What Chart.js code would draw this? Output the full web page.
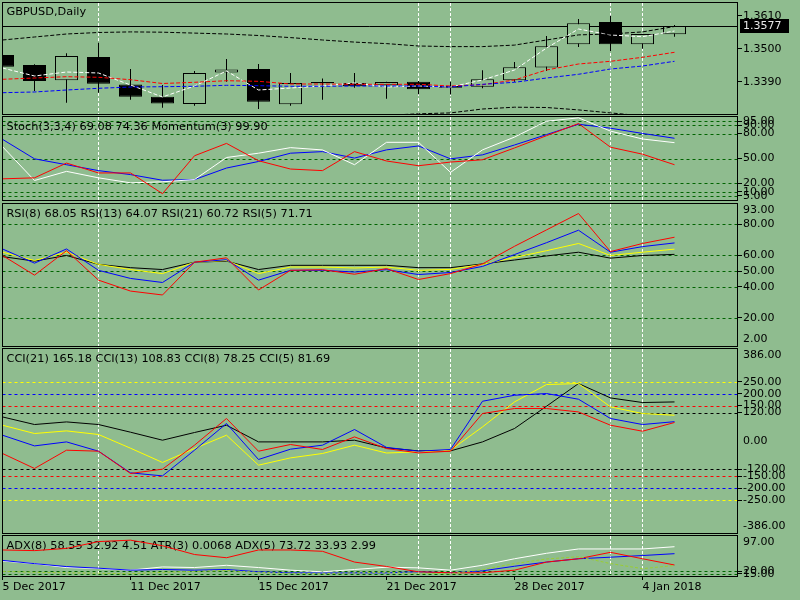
<!DOCTYPE html>
<html>
<head>
<meta charset="utf-8">
<script src="https://cdn.jsdelivr.net/npm/chart.js@4.4.1/dist/chart.umd.min.js"></script>
<style>
html, body { margin: 0; padding: 0; width: 800px; height: 600px; overflow: hidden; background: #8fbc8f; }
canvas { position: absolute; left: 0; }
</style>
</head>
<body>
<canvas id="mainChart" width="800" height="130" style="top:0px"></canvas>
<canvas id="stochChart" width="800" height="110" style="top:105px"></canvas>
<canvas id="rsiChart" width="800" height="168" style="top:192px"></canvas>
<canvas id="cciChart" width="800" height="210" style="top:337px"></canvas>
<canvas id="adxChart" width="800" height="76" style="top:524px"></canvas>
<script>
// bars
const dates = ['5 Dec 2017', '6 Dec 2017', '7 Dec 2017', '8 Dec 2017', '11 Dec 2017', '12 Dec 2017',
  '13 Dec 2017', '14 Dec 2017', '15 Dec 2017', '18 Dec 2017', '19 Dec 2017', '20 Dec 2017',
  '21 Dec 2017', '22 Dec 2017', '26 Dec 2017', '27 Dec 2017', '28 Dec 2017', '29 Dec 2017',
  '2 Jan 2018', '3 Jan 2018', '4 Jan 2018', '5 Jan 2018'];
const opens  = [1.3480, 1.3447, 1.3396, 1.3473, 1.3382, 1.3341, 1.3317, 1.3422, 1.3433, 1.3316, 1.3386,
  1.3387, 1.3379, 1.3391, 1.3377, 1.3374, 1.3396, 1.3438, 1.3516, 1.3590, 1.3516, 1.3549];
const highs  = [1.3484, 1.3449, 1.3486, 1.3521, 1.3433, 1.3380, 1.3427, 1.3467, 1.3450, 1.3420, 1.3402,
  1.3420, 1.3391, 1.3393, 1.3391, 1.3429, 1.3457, 1.3543, 1.3600, 1.3611, 1.3551, 1.3580];
const lows   = [1.3439, 1.3360, 1.3321, 1.3354, 1.3331, 1.3304, 1.3311, 1.3391, 1.3300, 1.3311, 1.3331,
  1.3371, 1.3334, 1.3349, 1.3348, 1.3369, 1.3391, 1.3427, 1.3507, 1.3493, 1.3501, 1.3541];
const closes = [1.3441, 1.3393, 1.3477, 1.3384, 1.3341, 1.3318, 1.3420, 1.3432, 1.3324, 1.3387, 1.3390,
  1.3376, 1.3390, 1.3366, 1.3371, 1.3399, 1.3439, 1.3509, 1.3586, 1.3516, 1.3550, 1.3577];

// overlays on price
const bandUpper = [1.3530, 1.3540, 1.3550, 1.3555, 1.3557, 1.3556, 1.3553, 1.3550, 1.3545, 1.3538, 1.3530,
  1.3523, 1.3518, 1.3510, 1.3508, 1.3508, 1.3513, 1.3530, 1.3547, 1.3550, 1.3557, 1.3575];
const bandLower = [1.3262, 1.3258, 1.3255, 1.3252, 1.3250, 1.3248, 1.3250, 1.3253, 1.3257, 1.3262, 1.3268,
  1.3274, 1.3279, 1.3284, 1.3287, 1.3300, 1.3306, 1.3305, 1.3297, 1.3287, 1.3277, 1.3265];
const maWhite = [1.34367, 1.34100, 1.34233, 1.34200, 1.33800, 1.33400, 1.33767, 1.34267, 1.33633, 1.33700,
  1.33767, 1.33867, 1.33733, 1.33767, 1.33733, 1.33967, 1.34300, 1.35033, 1.35667, 1.35467, 1.35410, 1.35600];
const maRed = [1.33990, 1.34033, 1.34077, 1.34057, 1.33977, 1.33850, 1.33890, 1.33943, 1.33923, 1.33833,
  1.33833, 1.33823, 1.33823, 1.33823, 1.33767, 1.33810, 1.33967, 1.34300, 1.34500, 1.34590, 1.34723, 1.34890];
const maBlue = [1.33543, 1.33567, 1.33633, 1.33690, 1.33733, 1.33743, 1.33757, 1.33790, 1.33777, 1.33757,
  1.33757, 1.33767, 1.33767, 1.33767, 1.33733, 1.33823, 1.33890, 1.34033, 1.34157, 1.34333, 1.34433, 1.34590];

// stochastic panel
const stochMain   = [73.1, 49.6, 42.5, 35.4, 30.6, 23.8, 24.6, 38.5, 46.4, 56.4, 58.3, 50.5, 60.4, 65.1, 49.6,
  54.4, 66.3, 78.8, 91.3, 86.5, 80.2, 74.36];
const stochSignal = [64.3, 23.5, 34.5, 26.7, 20.7, 21.9, 24.6, 51.2, 56.4, 63.1, 60.3, 42.5, 69.5, 69.5, 33.3,
  60.4, 75.8, 94.9, 99.0, 83.0, 73.5, 69.08];
const stochRed    = [25.5, 26.7, 44.5, 32.6, 32.6, 7.6, 53.3, 68.2, 47.3, 37.3, 35.4, 58.3, 47.0, 41.3, 45.7,
  48.5, 62.7, 77.5, 92.1, 63.6, 55.2, 42.5];

// rsi panel
const rsi5  = [60.0, 47.4, 63.1, 44.2, 37.2, 34.7, 55.7, 58.5, 37.9, 50.5, 50.9, 48.0, 51.6, 44.6, 48.4, 54.6,
  65.9, 76.4, 86.9, 62.5, 67.7, 71.71];
const rsi8  = [64.2, 55.1, 64.2, 50.5, 45.3, 42.7, 55.7, 57.3, 44.2, 50.5, 50.5, 49.4, 50.9, 47.8, 49.1, 53.0,
  60.6, 68.2, 76.2, 62.1, 65.7, 68.05];
const rsi13 = [62.1, 56.8, 62.1, 54.3, 51.0, 48.4, 55.7, 56.8, 48.4, 52.6, 52.6, 52.0, 52.6, 50.5, 51.1, 54.3,
  58.7, 63.1, 67.7, 60.0, 62.1, 64.07];
const rsi21 = [59.3, 56.4, 60.0, 54.3, 52.2, 51.0, 55.7, 56.4, 51.0, 53.7, 53.7, 53.7, 53.7, 52.2, 52.2, 54.6,
  57.1, 59.7, 62.1, 58.3, 60.0, 60.72];

// cci panel
const cci21 = [101.8, 69.7, 80.7, 69.7, 37.2, 3.4, 35.9, 66.7, -3.8, -3.8, -3.8, 3.4, -29.2, -41.8, -41.8, -3.8,
  52.8, 147.0, 242.9, 182.1, 162.7, 165.18];
const cci13 = [66.7, 31.7, 42.7, 27.5, -30.4, -90.8, -31.7, 24.5, -102.2, -71.4, -52.8, -17.7, -50.7, -46.0,
  -38.9, 59.6, 165.2, 238.7, 242.9, 144.1, 116.2, 108.83];
const cci8  = [-52.8, -116.2, -38.9, -43.1, -137.3, -119.1, -17.7, 95.1, -43.1, -14.8, -35.9, 17.3, -32.0, -50.3,
  -43.1, 116.2, 137.3, 137.3, 122.9, 66.7, 41.4, 78.25];
const cci5  = [24.5, -20.7, -3.8, -43.1, -134.8, -147.4, -38.9, 73.9, -78.2, -34.6, -17.7, 48.6, -27.0, -43.1,
  -35.9, 168.1, 193.5, 200.7, 176.6, 95.1, 69.7, 81.69];

// adx panel
const adx8   = [43.9, 36.9, 30.5, 27.0, 22.7, 24.2, 22.7, 24.2, 19.1, 17.0, 16.3, 17.0, 17.0, 19.1, 17.0, 21.2,
  31.2, 40.3, 47.5, 50.9, 54.5, 58.55];
const adx5   = [42.5, 36.9, 28.4, 26.2, 22.7, 29.7, 28.4, 33.3, 28.4, 22.7, 19.1, 24.2, 29.2, 27.7, 22.7, 33.3,
  47.5, 59.4, 68.8, 68.8, 68.8, 73.72];
const plusDi5 = [66.6, 65.2, 70.0, 84.9, 87.9, 75.8, 56.7, 49.7, 66.6, 66.6, 63.7, 40.3, 30.7, 19.1, 17.0, 17.0,
  22.7, 40.3, 47.5, 61.5, 47.5, 33.93];
const plusDi8 = [20, 18, 17, 16, 15, 18, 20, 22, 18, 16, 15, 17, 18, 16, 15, 24, 37, 47, 52, 37, 26, 32.92];

// ticks and levels
const separators = [3, 13, 14, 19, 20];
const dateTicks = [0, 4, 8, 12, 16, 20];
const priceTicks = [1.3610, 1.3500, 1.3390];
const stochLevels = [95, 90, 80, 50, 20, 10, 5];
const rsiLevels = [80, 60, 50, 40, 20];
const rsiEdgeLabels = ['93.00', '2.00'];
const cciLevels = [250, 200, 150, 120, -120, -150, -200, -250];
const cciLevelColors = ['#ffff00', '#0000ff', '#ff0000', '#000000', '#000000', '#ff0000', '#0000ff', '#ffff00'];
const cciTicks = [250, 200, 150, 120, 0, -120, -150, -200, -250];
const cciEdgeLabels = ['386.00', '-386.00'];
const adxLevels = [20, 15];
const adxEdgeLabels = ['97.00'];

const BG = '#8fbc8f';
const LEVEL_GREEN = '#006400';
const X_MAX = 22.953;
const idx = opens.map((_, i) => i);

Chart.defaults.font.family = '"DejaVu Sans"';
Chart.defaults.font.size = 11;
Chart.defaults.color = '#000';

function pts(values) {
  return values.map((v, i) => ({ x: i, y: v }));
}
function line(values, color, dash) {
  return { type: 'line', data: pts(values), borderColor: color, borderWidth: 1, borderDash: dash || [],
    pointRadius: 0, tension: 0, fill: false, order: 1, clip: 0 };
}

const panelPlugin = {
  id: 'panel',
  beforeDatasetsDraw(chart, args, opts) {
    const { ctx, chartArea: a, scales: { x, y } } = chart;
    ctx.save();
    ctx.beginPath();
    ctx.rect(a.left, a.top, a.right - a.left, a.bottom - a.top);
    ctx.clip();
    ctx.lineWidth = 1;
    (opts.levels || []).forEach((v, k) => {
      const py = Math.round(y.getPixelForValue(v)) + 0.5;
      ctx.strokeStyle = opts.levelColors ? opts.levelColors[k] : LEVEL_GREEN;
      ctx.setLineDash([3, 3]);
      ctx.beginPath(); ctx.moveTo(a.left, py); ctx.lineTo(a.right, py); ctx.stroke();
    });
    ctx.strokeStyle = '#ffffff';
    ctx.setLineDash([3, 2]);
    separators.forEach(i => {
      const px = Math.floor(x.getPixelForValue(i)) + 0.5;
      ctx.beginPath(); ctx.moveTo(px, a.top); ctx.lineTo(px, a.bottom); ctx.stroke();
    });
    ctx.setLineDash([]);
    if (opts.priceLine !== undefined) {
      const py = Math.round(y.getPixelForValue(opts.priceLine)) + 0.5;
      ctx.strokeStyle = '#000';
      ctx.beginPath(); ctx.moveTo(a.left, py); ctx.lineTo(a.right, py); ctx.stroke();
    }
    ctx.fillStyle = '#000';
    ctx.font = '11.3px "DejaVu Sans"';
    ctx.textAlign = 'left';
    ctx.textBaseline = 'middle';
    ctx.fillText(opts.title, a.left + 4, a.top + opts.titleDy);
    ctx.restore();
  },
  afterDraw(chart, args, opts) {
    const { ctx, chartArea: a, scales: { y } } = chart;
    ctx.save();
    ctx.strokeStyle = '#000';
    ctx.lineWidth = 1;
    const l = Math.floor(a.left) + 0.5, r = Math.round(a.right) + 0.5;
    ctx.strokeRect(l, a.top - 0.5, r - l, a.bottom - a.top + 1);
    ctx.font = '11px "DejaVu Sans"';
    ctx.textAlign = 'left';
    ctx.textBaseline = 'middle';
    ctx.fillStyle = '#000';
    const edge = opts.edge || [];
    if (edge[0]) ctx.fillText(edge[0], a.right + 6, a.top + 6);
    if (edge[1]) ctx.fillText(edge[1], a.right + 6, a.bottom - 7);
    if (opts.priceLine !== undefined) {
      const py = Math.round(y.getPixelForValue(opts.priceLine));
      ctx.fillStyle = '#000';
      ctx.fillRect(a.right + 3, py - 7, 49, 14);
      ctx.fillStyle = '#e8e8e8';
      ctx.fillText(opts.priceLine.toFixed(4), a.right + 6, py + 0.5);
    }
    ctx.restore();
  }
};

function makePanel(id, cfg) {
  const showX = !!cfg.showX;
  return new Chart(document.getElementById(id), {
    type: 'line',
    data: { datasets: cfg.datasets },
    plugins: [panelPlugin],
    options: {
      responsive: false,
      animation: false,
      devicePixelRatio: 1,
      layout: { padding: { left: 2.5, right: 0, top: cfg.padTop, bottom: cfg.padBottom } },
      plugins: {
        legend: { display: false },
        tooltip: { enabled: false },
        panel: { title: cfg.title, titleDy: cfg.titleDy || 10, levels: cfg.levels, levelColors: cfg.levelColors,
          edge: cfg.edge, priceLine: cfg.priceLine }
      },
      scales: {
        x: {
          type: 'linear', min: 0, max: X_MAX, offset: false, display: showX,
          afterBuildTicks: s => { s.ticks = dateTicks.map(v => ({ value: v })); },
          afterFit: s => { s.height = showX ? 24 : 0; s.paddingLeft = 0; s.paddingRight = 0; },
          ticks: { autoSkip: false, maxRotation: 0, align: 'start', padding: 1, color: '#000',
            font: { size: 11 }, callback: v => dates[v] },
          grid: { drawOnChartArea: false, drawTicks: true, tickLength: 4, color: '#000', offset: false },
          border: { display: true, color: '#000' }
        },
        y: {
          position: 'right', min: cfg.yMin, max: cfg.yMax,
          afterBuildTicks: s => { s.ticks = cfg.ticks.map(v => ({ value: v })); },
          afterFit: s => { s.width = 63; s.paddingTop = 0; s.paddingBottom = 0; },
          ticks: { autoSkip: false, padding: 1, color: '#000', font: { size: 11 },
            callback: v => v.toFixed(cfg.decimals) },
          grid: { drawOnChartArea: false, drawTicks: true, tickLength: 5, color: '#000',
            tickColor: c => (c.tick && c.tick.value === 0 && cfg.noZeroTick) ? 'rgba(0,0,0,0)' : '#000' },
          border: { display: true, color: '#000' }
        }
      }
    }
  });
}

// price panel: wicks, bodies, overlays
const bodyColors = idx.map(i => closes[i] >= opens[i] ? BG : '#000000');
makePanel('mainChart', {
  padTop: 3, padBottom: 16, yMin: 1.328333, yMax: 1.365333, ticks: priceTicks, decimals: 4,
  title: 'GBPUSD,Daily', titleDy: 9, priceLine: closes[closes.length - 1],
  datasets: [
    { type: 'bar', data: idx.map(i => ({ x: i, y: [lows[i], highs[i]] })), backgroundColor: '#000',
      barThickness: 1, grouped: false, inflateAmount: 0, order: 3 },
    { type: 'bar', data: idx.map(i => ({ x: i, y: [opens[i], closes[i]] })), backgroundColor: bodyColors,
      borderColor: '#000', borderWidth: 1, borderSkipped: false, barThickness: 23, grouped: false,
      inflateAmount: 0, order: 2 },
    line(bandUpper, '#000000', [4, 2]),
    line(bandLower, '#000000', [4, 2]),
    line(maBlue, '#0000ff', [4, 2]),
    line(maRed, '#ff0000', [4, 2]),
    line(maWhite, '#ffffff', [4, 2])
  ]
});

makePanel('stochChart', {
  padTop: 12, padBottom: 15, yMin: 0, yMax: 100, ticks: stochLevels, decimals: 2,
  title: 'Stoch(3,3,4) 69.08 74.36 Momentum(3) 99.90', levels: stochLevels,
  datasets: [line(stochRed, '#ff0000'), line(stochSignal, '#ffffff'), line(stochMain, '#0000ff')]
});

makePanel('rsiChart', {
  padTop: 12, padBottom: 14, yMin: 2, yMax: 93, ticks: rsiLevels, decimals: 2,
  title: 'RSI(8) 68.05 RSI(13) 64.07 RSI(21) 60.72 RSI(5) 71.71', levels: rsiLevels, edge: rsiEdgeLabels,
  datasets: [line(rsi5, '#ff0000'), line(rsi8, '#0000ff'), line(rsi13, '#ffff00'), line(rsi21, '#000000')]
});

makePanel('cciChart', {
  padTop: 12, padBottom: 14, yMin: -389, yMax: 389, ticks: cciTicks, decimals: 2, noZeroTick: true,
  title: 'CCI(21) 165.18 CCI(13) 108.83 CCI(8) 78.25 CCI(5) 81.69', levels: cciLevels,
  levelColors: cciLevelColors, edge: cciEdgeLabels,
  datasets: [line(cci8, '#ff0000'), line(cci5, '#0000ff'), line(cci13, '#ffff00'), line(cci21, '#000000')]
});

makePanel('adxChart', {
  padTop: 12, padBottom: 0, yMin: 10, yMax: 97, ticks: adxLevels, decimals: 2, showX: true,
  title: 'ADX(8) 58.55 32.92 4.51 ATR(3) 0.0068 ADX(5) 73.72 33.93 2.99', levels: adxLevels,
  edge: adxEdgeLabels,
  datasets: [line(plusDi8, '#9acd32', [3, 2]), line(plusDi5, '#ff0000'), line(adx8, '#0000ff'),
    line(adx5, '#ffffff')]
});
</script>
</body>
</html>
